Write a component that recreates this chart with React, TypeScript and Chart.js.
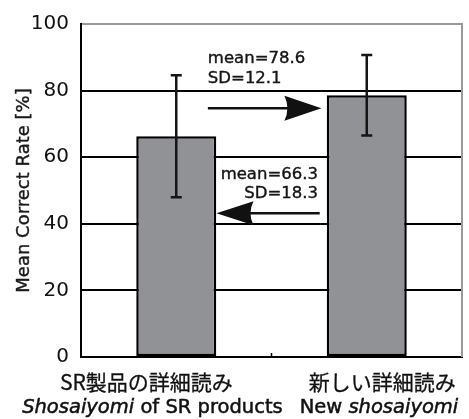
import React, { useEffect, useRef } from "react";
import { Chart, registerables } from "chart.js";

Chart.register(...registerables);

// ---- data ----
const categories = ["SR製品の詳細読み", "新しい詳細読み"];
const englishLabels = [
  [
    { t: "Shosaiyomi", italic: true },
    { t: " of SR products", italic: false },
  ],
  [
    { t: "New ", italic: false },
    { t: "shosaiyomi", italic: true },
  ],
];
const means = [66.3, 78.6];
const sds = [18.3, 12.1];
const yTicks = [0, 20, 40, 60, 80, 100];
const yTitle = "Mean Correct Rate [%]";

const FONT = "'DejaVu Sans', 'Liberation Sans', sans-serif";
const JFONT = "'Noto Sans CJK JP', 'DejaVu Sans', sans-serif";

function drawArrow(ctx: CanvasRenderingContext2D, tail: number, tip: number, yy: number, headLen: number, headHalf: number) {
  const dir = tip > tail ? 1 : -1;
  const base = tip - dir * headLen;
  ctx.beginPath();
  ctx.moveTo(tail, yy);
  ctx.lineTo(base + dir * 4, yy);
  ctx.stroke();
  ctx.beginPath();
  ctx.moveTo(tip, yy);
  ctx.lineTo(base, yy - headHalf);
  ctx.quadraticCurveTo(base + dir * 6, yy, base, yy + headHalf);
  ctx.closePath();
  ctx.fill();
}

function heavyText(ctx: CanvasRenderingContext2D, t: string, px: number, py: number, w = 0.6) {
  ctx.lineWidth = w;
  ctx.strokeStyle = ctx.fillStyle as string;
  ctx.fillText(t, px, py);
  ctx.strokeText(t, px, py);
}

const overlay = {
  id: "overlay",
  afterDatasetsDraw(chart: any) {
    const { ctx, chartArea: ca, scales } = chart;
    const x = scales.x;
    const y = scales.y;
    ctx.save();

    // right border (gray)
    ctx.strokeStyle = "#9a9a9a";
    ctx.lineWidth = 2;
    ctx.beginPath();
    ctx.moveTo(ca.right, ca.top - 1);
    ctx.lineTo(ca.right, ca.bottom);
    ctx.stroke();

    // small tick between categories
    ctx.strokeStyle = "#000";
    ctx.lineWidth = 1.5;
    const xm = x.getPixelForValue(0.5);
    ctx.beginPath();
    ctx.moveTo(xm, ca.bottom);
    ctx.lineTo(xm, ca.bottom - 4);
    ctx.stroke();

    // error bars
    ctx.strokeStyle = "#151515";
    ctx.lineWidth = 2.5;
    means.forEach((m, i) => {
      const cx = x.getPixelForValue(i);
      const yt = y.getPixelForValue(m + sds[i]);
      const yb = y.getPixelForValue(m - sds[i]);
      ctx.beginPath();
      ctx.moveTo(cx, yt);
      ctx.lineTo(cx, yb);
      ctx.moveTo(cx - 5.5, yt);
      ctx.lineTo(cx + 5.5, yt);
      ctx.moveTo(cx - 5.5, yb);
      ctx.lineTo(cx + 5.5, yb);
      ctx.stroke();
    });

    // arrows
    ctx.strokeStyle = "#111";
    ctx.fillStyle = "#111";
    ctx.lineWidth = 2.5;
    drawArrow(ctx, x.getPixelForValue(0.166), x.getPixelForValue(0.762), y.getPixelForValue(74.7), 37, 12.5);
    drawArrow(ctx, x.getPixelForValue(0.753), x.getPixelForValue(0.211), y.getPixelForValue(43.2), 37, 12);

    // annotations
    ctx.fillStyle = "#151515";
    ctx.font = `16.5px ${FONT}`;
    ctx.textBaseline = "alphabetic";
    ctx.textAlign = "left";
    heavyText(ctx, `mean=${means[1]}`, x.getPixelForValue(0.166), y.getPixelForValue(88.3), 0.4);
    heavyText(ctx, `SD=${sds[1]}`, x.getPixelForValue(0.166), y.getPixelForValue(82.3), 0.4);
    ctx.textAlign = "right";
    heavyText(ctx, `mean=${means[0]}`, x.getPixelForValue(0.744), y.getPixelForValue(53.45), 0.4);
    heavyText(ctx, `SD=${sds[0]}`, x.getPixelForValue(0.744), y.getPixelForValue(47.7), 0.4);

    // x labels: Japanese line
    ctx.fillStyle = "#111";
    ctx.font = `21px ${JFONT}`;
    ctx.textAlign = "center";
    ctx.textBaseline = "middle";
    const jpCenters = [x.getPixelForValue(-0.157), x.getPixelForValue(1.081)];
    categories.forEach((c, i) => heavyText(ctx, c, jpCenters[i], ca.bottom + 25, 0.3));

    // x labels: English line (mixed italic)
    ctx.textAlign = "left";
    ctx.textBaseline = "alphabetic";
    const enStarts = [x.getPixelForValue(-0.809), x.getPixelForValue(0.648)];
    englishLabels.forEach((parts, i) => {
      let px = enStarts[i];
      parts.forEach((p) => {
        ctx.font = `${p.italic ? "italic " : ""}19.5px ${FONT}`;
        heavyText(ctx, p.t, px, ca.bottom + 56, 0.5);
        px += ctx.measureText(p.t).width;
      });
    });

    // y title
    ctx.save();
    ctx.translate(24, (ca.top + ca.bottom) / 2);
    ctx.rotate(-Math.PI / 2);
    ctx.font = `18px ${FONT}`;
    ctx.textAlign = "center";
    ctx.textBaseline = "middle";
    ctx.fillStyle = "#1a1a1a";
    heavyText(ctx, yTitle, 0, 0, 0.4);
    ctx.restore();

    ctx.restore();
  },
};

export default function App() {
  const ref = useRef<HTMLCanvasElement | null>(null);
  useEffect(() => {
    document.body.style.margin = "0";
    const canvas = ref.current;
    if (!canvas) return;
    const chart = new Chart(canvas, {
      type: "bar",
      data: {
        labels: categories,
        datasets: [
          {
            data: means,
            backgroundColor: "#919296",
            borderColor: "#000",
            borderWidth: 2.5,
            borderSkipped: false,
            barPercentage: 0.84,
            categoryPercentage: 0.5,
          },
        ],
      },
      options: {
        responsive: false,
        animation: false,
        layout: { padding: { top: 24, right: 7, left: 0, bottom: 0 } },
        plugins: { legend: { display: false }, tooltip: { enabled: false } },
        scales: {
          x: {
            ticks: { display: false },
            grid: { display: false },
            border: { color: "#000", width: 2 },
            afterFit: (s: any) => {
              s.height = 62;
              s.paddingLeft = 0;
              s.paddingRight = 0;
            },
          },
          y: {
            min: 0,
            max: 100,
            afterBuildTicks: (s: any) => {
              s.ticks = yTicks.map((v) => ({ value: v }));
            },
            ticks: {
              color: "#111",
              font: { family: FONT, size: 20 },
              padding: 12,
            },
            grid: {
              color: (c: any) => (c.tick && c.tick.value === 100 ? "#9a9a9a" : "#000"),
              lineWidth: 2,
              drawTicks: false,
            },
            border: { color: "#000", width: 2 },
            afterFit: (s: any) => {
              s.width = 81;
              s.paddingTop = 0;
              s.paddingBottom = 0;
            },
          },
        },
      },
      plugins: [overlay],
    } as any);
    return () => chart.destroy();
  }, []);
  return (
    <div style={{ position: "absolute", left: 0, top: 0, width: 469, height: 419, background: "#fff" }}>
      <canvas ref={ref} width={469} height={419} style={{ width: 469, height: 419, display: "block" }} />
    </div>
  );
}
